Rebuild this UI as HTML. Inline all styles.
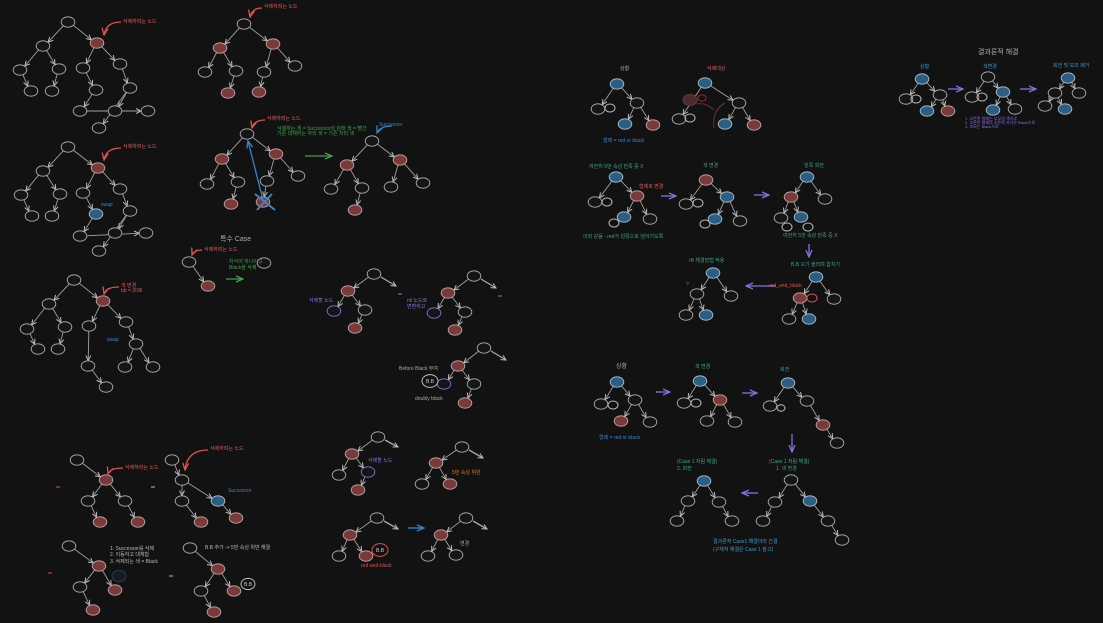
<!DOCTYPE html>
<html><head><meta charset="utf-8">
<style>
html,body{margin:0;padding:0;background:#121212;}
svg{display:block;}
text{font-family:"Liberation Sans","Noto Sans CJK KR",sans-serif;}
</style></head>
<body>
<svg id="s" width="1103" height="623" viewBox="0 0 1103 623" xmlns="http://www.w3.org/2000/svg">
<defs>
<marker id="a" markerWidth="6" markerHeight="6" refX="5" refY="3" orient="auto" markerUnits="userSpaceOnUse"><path d="M0,0.5 L5,3 L0,5.5" fill="none" stroke="#bbb" stroke-width="1"/></marker>
<marker id="ap" markerWidth="8" markerHeight="8" refX="7" refY="4" orient="auto" markerUnits="userSpaceOnUse"><path d="M0,1 L7,4 L0,7" fill="none" stroke="#8a6fe0" stroke-width="1.3"/></marker>
<marker id="ag" markerWidth="8" markerHeight="8" refX="7" refY="4" orient="auto" markerUnits="userSpaceOnUse"><path d="M0,1 L7,4 L0,7" fill="none" stroke="#3fa34d" stroke-width="1.3"/></marker>
<marker id="ab" markerWidth="8" markerHeight="8" refX="7" refY="4" orient="auto" markerUnits="userSpaceOnUse"><path d="M0,1 L7,4 L0,7" fill="none" stroke="#3a84c8" stroke-width="1.3"/></marker>
<marker id="ar" markerWidth="8" markerHeight="8" refX="7" refY="4" orient="auto" markerUnits="userSpaceOnUse"><path d="M0,1 L7,4 L0,7" fill="none" stroke="#e05050" stroke-width="1.3"/></marker>
</defs>
<g id="g"></g>
<g font-size="5">
<text x="123" y="23" fill="#e05a5a">삭제하려는 노드</text>
<text x="123" y="148" fill="#e05a5a">삭제하려는 노드</text>
<text x="121" y="287" fill="#e05a5a">색 변경</text>
<text x="121" y="292" fill="#e05a5a">bb = 20로</text>
<text x="101" y="206" fill="#3a84c8">swap</text>
<text x="107" y="341" fill="#3a84c8">swap</text>
<text x="264" y="8" fill="#e05a5a">삭제하려는 노드</text>
<text x="267" y="120" fill="#e05a5a">삭제하려는 노드</text>
<text x="277" y="130" fill="#3fa34d">삭제하는 게 = Successor의 원래 색 = 빨간</text>
<text x="277" y="135" fill="#3fa34d">기존 대체하는 자리 색 = 기존 자리 색</text>
<text x="379" y="126" fill="#3a84c8">Successor</text>
<text x="220" y="241" font-size="7" fill="#aaa">특수 Case</text>
<text x="204" y="251" fill="#e05a5a">삭제하려는 노드</text>
<text x="229" y="263" fill="#3fa34d">자식이 하나이고</text>
<text x="229" y="269" fill="#3fa34d">Black을 삭제</text>
<text x="125" y="469" fill="#e05a5a">삭제하려는 노드</text>
<text x="210" y="450" fill="#e05a5a">삭제하려는 노드</text>
<text x="228" y="492" fill="#3a84c8">Successor</text>
<text x="110" y="550" fill="#bbb">1. Successor를 삭제</text>
<text x="110" y="556" fill="#bbb">2. 이동하고 대체함</text>
<text x="110" y="563" fill="#bbb">3. 삭제되는 색 = Black</text>
<text x="205" y="549" fill="#bbb">B.B 추가 -&gt; 5번 속성 위반 해결</text>
<text x="309" y="302" fill="#8a6fe0">삭제할 노드</text>
<text x="407" y="302" fill="#8a6fe0">nil 노드로</text>
<text x="407" y="308" fill="#8a6fe0">변환하고</text>
<text x="399" y="370" fill="#aaa">Before Black 부여</text>
<text x="415" y="400" fill="#aaa">doubly black</text>
<text x="368" y="462" fill="#8a6fe0">삭제할 노드</text>
<text x="452" y="474" fill="#e07a30">5번 속성 위반</text>
<text x="361" y="567" fill="#e05050">red-and-black</text>
<text x="460" y="545" fill="#aaa">변경</text>
<text x="620" y="70" fill="#aaa">상황</text>
<text x="707" y="70" fill="#e05a5a">삭제대상</text>
<text x="603" y="142" fill="#3a84c8">형제 = red or black</text>
<text x="589" y="168" fill="#3fa38a">여전히 5번 속성 만족 중 X</text>
<text x="639" y="188" fill="#e05a5a">형제로 변경</text>
<text x="583" y="238" fill="#3fa38a">이와 같음 - red가 왼쪽으로 넘어가도록</text>
<text x="703" y="167" fill="#3fa38a">색 변경</text>
<text x="804" y="167" fill="#3fa38a">왼쪽 회전</text>
<text x="783" y="237" fill="#3fa38a">여전히 5번 속성 만족 중 X</text>
<text x="791" y="266" fill="#3fa38a">B.B 오기 올리며 합치기</text>
<text x="689" y="262" fill="#3fa38a">rB 해결방법 적용</text>
<text x="769" y="287" fill="#e05050">red_and_black</text>
<text x="686" y="286" fill="#e05050">?</text>
<text x="616" y="368" font-size="6" fill="#aaa">상황</text>
<text x="599" y="439" fill="#3a84c8">형제 = red or black</text>
<text x="695" y="368" fill="#3fa38a">색 변경</text>
<text x="780" y="371" fill="#3fa38a">회전</text>
<text x="769" y="463" fill="#3fa38a">(Case 1 처럼 해결)</text>
<text x="776" y="470" fill="#3fa38a">1. 색 변경</text>
<text x="677" y="463" fill="#3fa38a">(Case 1 처럼 해결)</text>
<text x="677" y="470" fill="#3fa38a">2. 회전</text>
<text x="713" y="543" fill="#3a9bd0">결과론적 Case1 해결이라 간결</text>
<text x="713" y="551" fill="#3a9bd0">(구체적 해결은 Case 1 참고)</text>
<text x="978" y="54" font-size="7" fill="#aaa">결과론적 해결</text>
<text x="920" y="68" fill="#3a9bd0">상황</text>
<text x="983" y="68" fill="#3a9bd0">색변경</text>
<text x="1053" y="67" fill="#3a9bd0">회전 및 보조 제거</text>
<text x="965" y="120" fill="#8a6fe0" font-size="4">1. 오른쪽 형제는 부모의 색으로</text>
<text x="965" y="124" fill="#8a6fe0" font-size="4">2. 오른쪽 형제의 오른쪽 자식은 Black으로</text>
<text x="965" y="128" fill="#8a6fe0" font-size="4">3. 부모는 Black으로</text>
</g>
</svg>
<script>
var g=document.getElementById('g'),NS='http://www.w3.org/2000/svg';
function el(t,a){var e=document.createElementNS(NS,t);for(var k in a)e.setAttribute(k,a[k]);g.appendChild(e);return e;}
var F={k:'#151515',r:'#7a3a3a',b:'#2c5d82',p:'#151515'};
var S={k:'#b0b0b0',r:'#c0a8a8',b:'#b0c0d0',p:'#8a6fe0'};
function tree(n,e){
 e.forEach(function(p){var a=n[p[0]],b=n[p[1]];var dx=b[0]-a[0],dy=b[1]-a[1],L=Math.hypot(dx,dy);
  el('line',{x1:a[0]+dx/L*6,y1:a[1]+dy/L*5,x2:b[0]-dx/L*7,y2:b[1]-dy/L*5.5,stroke:'#a0a0a0','stroke-width':0.9,'marker-end':'url(#a)'});});
 n.forEach(function(p){var c=p[2]||'k';el('ellipse',{cx:p[0],cy:p[1],rx:6.8,ry:5.2,fill:F[c],stroke:S[c],'stroke-width':0.9});});
}
function arr(x1,y1,x2,y2,m,c){el('line',{x1:x1,y1:y1,x2:x2,y2:y2,stroke:c,'stroke-width':1.3,'marker-end':'url(#'+m+')'});}
function circ(x,y,r,c,t){el('ellipse',{cx:x,cy:y,rx:r,ry:r*0.8,fill:'none',stroke:c,'stroke-width':1});if(t){var e=el('text',{x:x-4,y:y+2,fill:'#ccc','font-size':5});e.textContent=t;}}
function curve(x1,y1,x2,y2){el('path',{d:'M'+x1+','+y1+' Q'+(x2+2)+','+(y1)+' '+x2+','+y2,fill:'none',stroke:'#e05050','stroke-width':1.3,'marker-end':'url(#ar)'});}
var E1=[[0,1],[0,2],[1,3],[1,4],[3,7],[4,8],[2,5],[2,6],[5,9],[6,10],[9,11],[11,13],[10,12],[10,14]];
tree([[68,22],[43,46],[97,43,'r'],[20,70],[59,69],[83,68],[120,64],[31,91],[52,91],[96,90],[130,88],[80,111],[115,111],[148,111],[99,128]],E1);
curve(121,22,104,35);
tree([[68,147],[43,171],[98,168,'r'],[21,195],[60,194],[83,193],[120,189],[32,216],[52,216],[96,214,'b'],[130,211],[80,236],[115,233],[146,233],[99,251]],E1);
curve(121,148,104,160);
tree([[74,280],[49,304],[103,301,'r'],[27,329],[65,327],[89,326],[126,322],[38,349],[58,349],[88,366],[136,344],[106,387],[125,367],[153,367]],
 [[0,1],[0,2],[1,3],[1,4],[3,7],[4,8],[2,5],[2,6],[5,9],[9,11],[6,10],[10,12],[10,13]]);
curve(119,287,104,294);
tree([[244,24],[220,48,'r'],[273,44,'r'],[205,72],[236,71],[264,72],[295,66],[228,93,'r'],[259,92,'r']],[[0,1],[0,2],[1,3],[1,4],[2,5],[2,6],[4,7],[5,8]]);
curve(262,8,250,17);
tree([[247,134],[222,159,'r'],[276,154,'r'],[207,184],[238,182],[267,181],[298,176],[231,204,'r'],[263,202,'r']],[[0,1],[0,2],[1,3],[1,4],[2,5],[2,6],[4,7],[5,8]]);
curve(265,120,252,128);
arr(263,200,248,141,'ab','#3a84c8');
el('path',{d:'M255,194 L275,210 M272,194 L257,210',stroke:'#3a84c8','stroke-width':2,fill:'none'});
arr(305,156,332,156,'ag','#3fa34d');
tree([[372,141],[347,165,'r'],[400,160,'r'],[331,189],[362,188],[391,187],[423,183],[355,210,'r']],[[0,1],[0,2],[1,3],[1,4],[2,5],[2,6],[4,7]]);
el('path',{d:'M392,126 Q380,126 377,133',fill:'none',stroke:'#3a84c8','stroke-width':1.2,'marker-end':'url(#ab)'});
tree([[189,262],[208,286,'r']],[[0,1]]);
curve(202,250,192,255);
arr(226,279,243,279,'ag','#3fa34d');
tree([[264,263]],[]);
tree([[77,460],[106,480,'r'],[88,501],[125,501],[100,522,'r'],[138,522,'r']],[[0,1],[1,2],[1,3],[2,4],[3,5]]);
el('line',{x1:56,y1:487,x2:60,y2:487,stroke:'#e05050'});
curve(123,468,108,474);
tree([[172,460],[182,480],[182,501],[218,501,'b'],[201,522,'r'],[236,518,'r']],[[0,1],[1,2],[1,3],[2,4],[3,5]]);
el('line',{x1:151,y1:487,x2:155,y2:487,stroke:'#bbb'});
curve(208,450,185,470);
tree([[69,546],[99,566,'r'],[80,587],[115,590,'r'],[93,610,'r']],[[0,1],[1,2],[1,3],[2,4]]);
el('line',{x1:48,y1:573,x2:52,y2:573,stroke:'#e05050'});
el('ellipse',{cx:119,cy:576,rx:7,ry:5.5,fill:'#151a22',stroke:'#2c3e55','stroke-width':1});
tree([[190,548],[218,569,'r'],[201,591],[234,591,'r'],[214,612,'r']],[[0,1],[1,2],[1,3],[2,4]]);
el('line',{x1:169,y1:576,x2:173,y2:576,stroke:'#bbb'});
circ(248,584,7,'#bbb','B.B');
var EM=[[0,1],[1,2],[1,3],[3,4]];
function mt(x,y,p){tree([[x,y],[x-26,y+17,'r'],[x-40,y+37,p?'p':'k'],[x-9,y+36],[x-19,y+54,'r']],EM);arr(x+7,y+3,x+22,y+12,'a','#aaa');el('line',{x1:x+24,y1:y+20,x2:x+28,y2:y+20,stroke:'#8a6fe0'});}
mt(374,274,1);mt(474,276,1);
tree([[484,348],[458,366,'r'],[444,384,'p'],[474,384],[465,403,'r']],EM);arr(491,351,506,360,'a','#aaa');
circ(430,381,8,'#bbb','B.B');
tree([[378,437],[352,454,'r'],[339,475],[368,472,'p'],[358,490,'r']],EM);arr(385,440,398,447,'a','#aaa');
tree([[462,447],[436,463,'r'],[422,484],[450,484,'r']],[[0,1],[1,2],[1,3]]);arr(469,450,483,458,'a','#aaa');
tree([[377,518],[350,535,'r'],[339,556],[366,556,'r']],[[0,1],[1,2],[1,3]]);arr(384,521,398,529,'a','#aaa');
circ(380,550,8,'#e05050','B.B');
arr(408,528,424,528,'ab','#3a84c8');
tree([[466,518],[441,535,'r'],[428,556],[456,555]],[[0,1],[1,2],[1,3]]);arr(473,521,487,529,'a','#aaa');
var ER=[[0,1],[0,2],[2,3],[2,4]];
tree([[617,84,'b'],[598,109],[637,103],[625,124,'b'],[653,125,'r']],ER);
circ(610,108,5,'#bbb');
tree([[705,83,'b'],[679,119],[739,103],[725,124,'b'],[754,125,'r']],ER);
circ(690,118,5,'#bbb');
el('ellipse',{cx:690,cy:100,rx:7,ry:5.5,fill:'#4a2a2a',stroke:'#6a3a3a'});
el('path',{d:'M714,128 Q712,110 725,103 M714,110 Q705,102 697,104',fill:'none',stroke:'#6a3030','stroke-width':1});
circ(702,98,4,'#8a3030');
tree([[616,177,'b'],[595,202],[637,196,'r'],[624,217,'b'],[650,219]],ER);circ(607,202,5,'#bbb');circ(614,223,5,'#bbb');
arr(661,196,676,196,'ap','#8a6fe0');
tree([[706,180,'r'],[686,204],[727,197,'b'],[715,219,'b'],[740,221]],ER);circ(698,203,5,'#bbb');circ(705,224,5,'#bbb');
arr(754,195,769,195,'ap','#8a6fe0');
tree([[807,177,'b'],[791,197,'r'],[825,199],[781,218],[801,217,'b']],[[0,1],[0,2],[1,3],[1,4]]);circ(787,227,5,'#bbb');circ(808,227,5,'#bbb');
arr(809,244,809,257,'ap','#8a6fe0');
tree([[816,277,'b'],[800,298,'r'],[834,299],[789,319],[809,319,'b']],[[0,1],[0,2],[1,3],[1,4]]);circ(812,298,5,'#e05050');
arr(776,286,746,286,'ap','#8a6fe0');
tree([[713,273,'b'],[697,294],[731,296],[686,315],[706,315,'b']],[[0,1],[0,2],[1,3],[1,4]]);
tree([[617,382,'b'],[601,404],[635,400],[621,421,'r'],[650,422]],ER);circ(613,405,5,'#bbb');
arr(656,392,670,392,'ap','#8a6fe0');
tree([[700,381,'b'],[684,403],[720,400,'r'],[707,421],[735,422]],ER);circ(696,403,5,'#bbb');
arr(742,393,757,393,'ap','#8a6fe0');
tree([[788,383,'b'],[770,406],[807,401],[823,425,'r'],[837,443]],[[0,1],[0,2],[2,3],[3,4]]);circ(781,408,4,'#bbb');
arr(792,434,792,452,'ap','#8a6fe0');
tree([[791,480],[775,502],[810,501,'b'],[828,521],[842,540],[763,521]],[[0,1],[0,2],[2,3],[3,4],[1,5]]);
arr(758,493,742,493,'ap','#8a6fe0');
tree([[704,481,'b'],[688,501],[719,502],[677,521],[732,521]],[[0,1],[0,2],[1,3],[2,4]]);
tree([[922,79,'b'],[906,99],[940,95],[927,111,'b'],[948,111,'r']],ER);circ(916,99,5,'#bbb');
arr(948,89,963,89,'ap','#8a6fe0');
tree([[988,77],[972,97],[1003,92,'b'],[993,110,'b'],[1015,109]],ER);circ(982,97,5,'#bbb');
arr(1020,89,1036,89,'ap','#8a6fe0');
tree([[1068,78,'b'],[1055,93],[1079,93],[1045,106],[1065,109,'b']],[[0,1],[0,2],[1,3],[1,4]]);
</script>
</body></html>
